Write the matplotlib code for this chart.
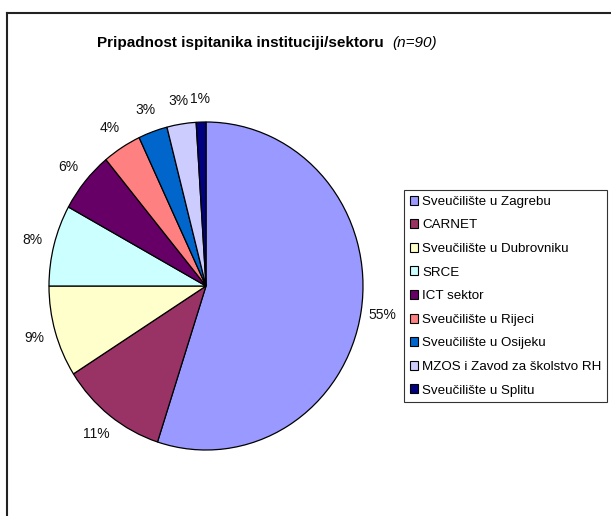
import matplotlib
matplotlib.use('Agg')
import matplotlib.pyplot as plt
from matplotlib.lines import Line2D
from matplotlib.patches import Patch

plt.rcParams['font.family'] = ['Liberation Sans', 'DejaVu Sans']

# --- Data ---
categories = [
    'Sveučilište u Zagrebu',
    'CARNET',
    'Sveučilište u Dubrovniku',
    'SRCE',
    'ICT sektor',
    'Sveučilište u Rijeci',
    'Sveučilište u Osijeku',
    'MZOS i Zavod za školstvo RH',
    'Sveučilište u Splitu',
]
shares = [55, 11, 9, 8, 6, 4, 3, 3, 1]
colors = ['#9999FF', '#993366', '#FFFFCC', '#CCFFFF', '#660066',
          '#FF8080', '#0066CC', '#CCCCFF', '#000080']

W, H = 611, 516
fig = plt.figure(figsize=(W / 100, H / 100), dpi=100, facecolor='white')

# chart frame (only top and left edges visible in the crop)
fig.add_artist(Line2D([7.5 / W, 7.5 / W], [0, 1 - 12.5 / H], color='#222222', lw=1.5))
fig.add_artist(Line2D([7.5 / W, 1], [1 - 12.5 / H, 1 - 12.5 / H], color='#222222', lw=1.5))

# --- Pie (slightly taller than wide, as in the original) ---
ax = fig.add_axes([49 / W, 1 - 450 / H, 314 / W, 328 / H])
wedges, texts = ax.pie(
    shares, colors=colors, startangle=90, counterclock=False,
    labels=[f'{s}%' for s in shares], labeldistance=1.14,
    wedgeprops=dict(edgecolor='black', linewidth=0.9),
    textprops=dict(fontsize=10, color='#111111'),
)
for t in texts:
    t.set_ha('center')
    t.set_va('center')
ax.set_aspect('auto')
ax.set_xlim(-1, 1)
ax.set_ylim(-1, 1)
ax.axis('off')

# --- Title ---
fig.text(97 / W, 1 - 43 / H, 'Pripadnost ispitanika instituciji/sektoru',
         fontsize=11, fontweight='bold', ha='left', va='center')
fig.text(392 / W, 1 - 43 / H, '(n=90)', fontsize=11, style='italic',
         ha='left', va='center')

# --- Legend ---
handles = [Patch(facecolor=c, edgecolor='black', linewidth=0.8) for c in colors]
leg = fig.legend(handles, categories, loc='upper left',
                 bbox_to_anchor=(404 / W, 1 - 190 / H),
                 fontsize=9.6, frameon=True, fancybox=False,
                 edgecolor='black', handlelength=0.65, handleheight=0.65,
                 handletextpad=0.3, labelspacing=0.86, borderpad=0.42,
                 borderaxespad=0)
leg.get_frame().set_linewidth(0.8)

plt.savefig('out.png', dpi=100, facecolor='white')
plt.close()
